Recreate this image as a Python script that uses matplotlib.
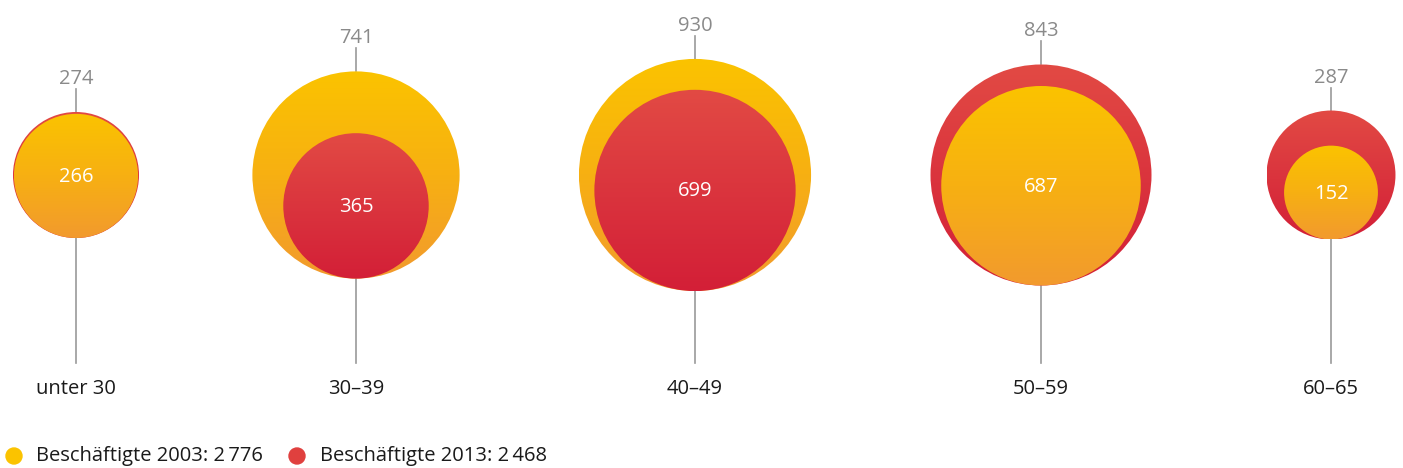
import numpy as np
import matplotlib.pyplot as plt
from matplotlib.patches import Circle
from matplotlib.colors import LinearSegmentedColormap

# Daten
categories = ['unter 30', '30–39', '40–49', '50–59', '60–65']
values_2003 = [266, 741, 930, 687, 152]
values_2013 = [274, 365, 699, 843, 287]
legend_labels = ['Beschäftigte 2003: 2\u2009776', 'Beschäftigte 2013: 2\u2009468']

# Layout (Pixelkoordinaten)
x_centers = [76, 356, 695, 1041, 1331]
y_mid = 175
scale = 3.806  # Radius = scale * sqrt(Wert)
line_bottom = 363
label_y = 389

plt.rcParams['font.family'] = ['Open Sans', 'DejaVu Sans']
fs = 14.5

cmap_yellow = LinearSegmentedColormap.from_list('gelb', ['#fbc300', '#f7b012', '#f29a2e'])
cmap_red = LinearSegmentedColormap.from_list('rot', ['#e24a44', '#d31f37'])
grad = np.linspace(0, 1, 256).reshape(-1, 1)

fig = plt.figure(figsize=(14.03, 4.68), dpi=100)
ax = fig.add_axes([0, 0, 1, 1])
ax.set_xlim(0, 1403)
ax.set_ylim(468, 0)
ax.axis('off')


def draw_circle(x, y, r, cmap, z):
    circ = Circle((x, y), r, facecolor='none', edgecolor='none', zorder=z)
    ax.add_patch(circ)
    im = ax.imshow(grad, cmap=cmap, extent=(x - r, x + r, y + r, y - r),
                   aspect='auto', zorder=z, interpolation='bilinear')
    im.set_clip_path(circ)


for cat, v03, v13, x in zip(categories, values_2003, values_2013, x_centers):
    r03 = scale * np.sqrt(v03)
    r13 = scale * np.sqrt(v13)
    R = max(r03, r13)
    top = y_mid - R
    bottom = y_mid + R
    # großer Kreis hinten, kleiner Kreis unten bündig davor
    if v03 >= v13:
        big, small = (r03, cmap_yellow), (r13, cmap_red)
        big_val, small_val = v03, v13
    else:
        big, small = (r13, cmap_red), (r03, cmap_yellow)
        big_val, small_val = v13, v03
    draw_circle(x, y_mid, big[0], big[1], 2)
    ys = bottom - small[0]
    draw_circle(x, ys, small[0], small[1], 3)

    # Linien
    ax.plot([x, x], [top - 23, top], color='#999999', lw=1.2, zorder=1)
    ax.plot([x, x], [bottom, line_bottom], color='#999999', lw=1.2, zorder=1)

    ax.text(x, top - 28, str(big_val), ha='center', va='baseline',
            fontsize=fs, color='#8a8a8a')
    ax.text(x, ys + 1, str(small_val), ha='center', va='center',
            fontsize=fs, color='white', zorder=5)
    ax.text(x, label_y, cat, ha='center', va='center', fontsize=fs, color='#1a1a1a')

# Legende
ax.add_patch(Circle((14, 456), 8, color='#fbc300'))
ax.text(36, 456, legend_labels[0], ha='left', va='center', fontsize=fs, color='#1a1a1a')
ax.add_patch(Circle((297, 456), 8, color='#e0403e'))
ax.text(320, 456, legend_labels[1], ha='left', va='center', fontsize=fs, color='#1a1a1a')

fig.savefig('out.png', dpi=100)
